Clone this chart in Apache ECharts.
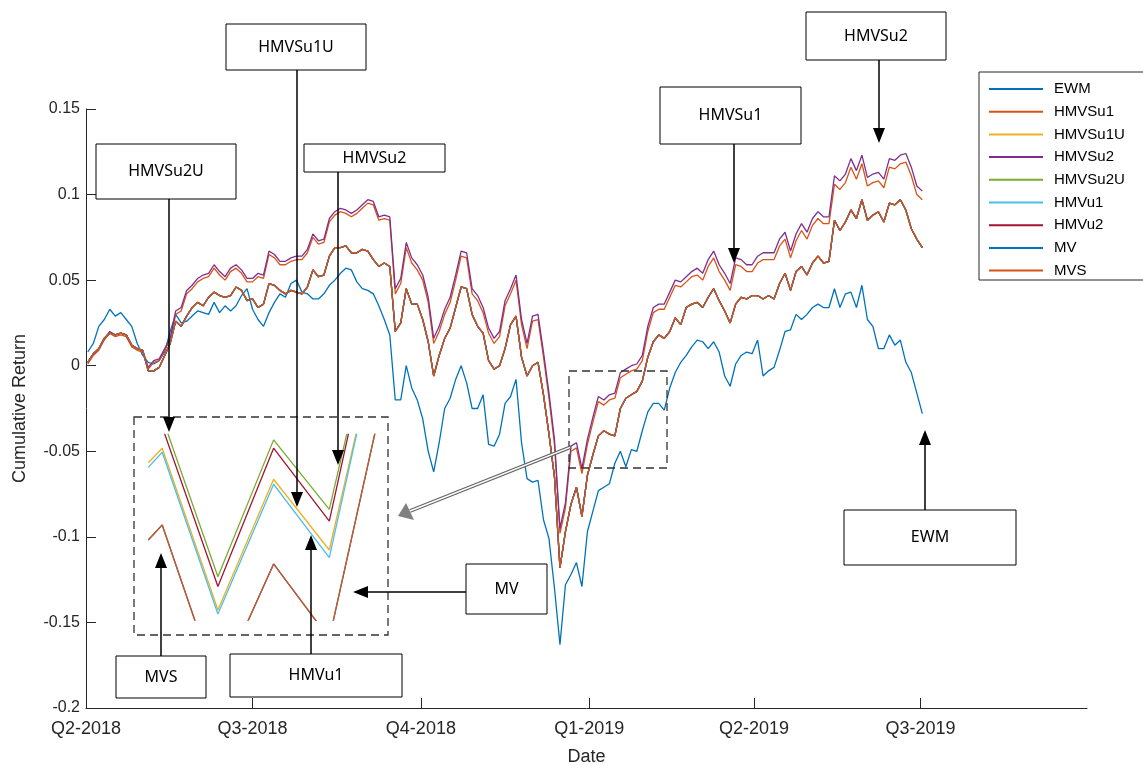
<!DOCTYPE html>
<html>
<head>
<meta charset="utf-8">
<script src="https://cdn.jsdelivr.net/npm/echarts@6/dist/echarts.min.js"></script>
<style>
  html, body { margin: 0; padding: 0; background: #fff; }
  #chart { width: 1143px; height: 771px; }
</style>
</head>
<body>
<div id="chart"></div>
<script>
// quarter ticks, in days since 2018-04-01
var quarterDays = [0, 91, 183, 275, 365, 456];
var quarterLabels = ['Q2-2018', 'Q3-2018', 'Q4-2018', 'Q1-2019', 'Q2-2019', 'Q3-2019'];

// cumulative returns, one sample every 3 days from 2018-04-02
var ewm = [0.008,0.013,0.023,0.027,0.033,0.029,0.031,0.027,0.023,0.013,
  0.006,0.002,0.001,0.003,0.008,0.020,0.030,0.025,0.026,0.029,
  0.032,0.031,0.030,0.037,0.031,0.035,0.032,0.035,0.041,0.045,
  0.033,0.027,0.023,0.031,0.037,0.042,0.040,0.048,0.050,0.043,
  0.042,0.039,0.039,0.042,0.047,0.050,0.054,0.057,0.056,0.049,
  0.045,0.044,0.042,0.035,0.027,0.018,-0.020,-0.020,0.000,-0.013,
  -0.020,-0.031,-0.050,-0.062,-0.045,-0.025,-0.019,-0.008,0.000,-0.010,
  -0.025,-0.025,-0.017,-0.046,-0.047,-0.040,-0.022,-0.018,-0.008,-0.045,
  -0.066,-0.068,-0.067,-0.090,-0.101,-0.130,-0.163,-0.128,-0.122,-0.115,
  -0.129,-0.097,-0.085,-0.073,-0.071,-0.069,-0.057,-0.050,-0.059,-0.049,
  -0.050,-0.038,-0.027,-0.022,-0.022,-0.026,-0.013,-0.004,0.002,0.006,
  0.011,0.015,0.014,0.010,0.014,0.008,-0.006,-0.012,0.001,0.006,
  0.008,0.007,0.015,-0.006,-0.003,-0.001,0.009,0.020,0.021,0.030,
  0.027,0.030,0.034,0.036,0.034,0.034,0.045,0.034,0.042,0.043,
  0.034,0.047,0.027,0.023,0.010,0.010,0.018,0.012,0.015,0.002,
  -0.004,-0.016,-0.028];

var hmvsu1 = [0.001,0.006,0.009,0.015,0.019,0.017,0.018,0.017,0.011,0.009,
  0.008,-0.002,0.002,0.003,0.009,0.015,0.030,0.032,0.042,0.045,
  0.049,0.051,0.052,0.057,0.053,0.050,0.055,0.057,0.054,0.049,
  0.049,0.052,0.051,0.065,0.063,0.059,0.059,0.061,0.062,0.062,
  0.066,0.075,0.071,0.072,0.084,0.088,0.090,0.089,0.087,0.089,
  0.092,0.095,0.094,0.085,0.086,0.085,0.042,0.048,0.069,0.060,
  0.056,0.050,0.037,0.013,0.020,0.030,0.037,0.050,0.064,0.063,
  0.042,0.038,0.031,0.019,0.013,0.017,0.035,0.042,0.050,0.024,
  0.010,0.026,0.027,0.005,-0.019,-0.046,-0.098,-0.083,-0.050,-0.048,
  -0.063,-0.046,-0.033,-0.021,-0.023,-0.020,-0.019,-0.007,-0.005,-0.003,
  -0.002,0.003,0.020,0.031,0.033,0.033,0.040,0.047,0.046,0.049,
  0.052,0.053,0.050,0.058,0.063,0.055,0.050,0.044,0.059,0.058,
  0.055,0.055,0.060,0.062,0.062,0.062,0.070,0.074,0.063,0.073,
  0.079,0.074,0.082,0.086,0.083,0.083,0.106,0.103,0.107,0.116,
  0.109,0.118,0.105,0.107,0.108,0.104,0.116,0.115,0.118,0.119,
  0.111,0.100,0.097];

var hmvsu2 = [0.002,0.007,0.010,0.016,0.020,0.018,0.019,0.018,0.012,0.010,
  0.009,-0.001,0.003,0.004,0.010,0.016,0.032,0.034,0.044,0.047,
  0.051,0.053,0.054,0.059,0.055,0.052,0.057,0.059,0.056,0.051,
  0.051,0.054,0.053,0.067,0.065,0.061,0.061,0.063,0.064,0.064,
  0.068,0.077,0.073,0.074,0.086,0.090,0.092,0.091,0.089,0.091,
  0.094,0.097,0.096,0.087,0.088,0.087,0.045,0.051,0.072,0.063,
  0.059,0.053,0.040,0.016,0.023,0.033,0.040,0.053,0.067,0.066,
  0.045,0.041,0.034,0.022,0.016,0.020,0.038,0.045,0.053,0.027,
  0.013,0.029,0.030,0.008,-0.016,-0.043,-0.095,-0.080,-0.047,-0.045,
  -0.060,-0.043,-0.030,-0.018,-0.020,-0.017,-0.016,-0.004,-0.002,0.000,
  0.001,0.006,0.023,0.034,0.036,0.036,0.043,0.050,0.049,0.052,
  0.055,0.057,0.054,0.062,0.067,0.059,0.054,0.048,0.063,0.062,
  0.059,0.059,0.064,0.066,0.066,0.066,0.074,0.078,0.067,0.077,
  0.083,0.078,0.086,0.090,0.087,0.087,0.111,0.108,0.112,0.121,
  0.114,0.123,0.110,0.112,0.113,0.109,0.121,0.120,0.123,0.124,
  0.116,0.105,0.102];

// the six remaining portfolios overlap almost exactly in the main plot
var mvGroup = [0.002,0.007,0.010,0.016,0.019,0.018,0.019,0.018,0.012,0.010,
  0.009,-0.003,-0.003,-0.001,0.006,0.013,0.026,0.023,0.029,0.034,
  0.037,0.035,0.040,0.043,0.041,0.040,0.041,0.046,0.044,0.038,
  0.039,0.034,0.036,0.048,0.047,0.044,0.042,0.044,0.043,0.042,
  0.046,0.056,0.052,0.053,0.064,0.069,0.069,0.070,0.066,0.066,
  0.068,0.067,0.062,0.058,0.060,0.058,0.020,0.025,0.045,0.036,
  0.036,0.027,0.014,-0.006,0.006,0.016,0.022,0.034,0.046,0.045,
  0.030,0.023,0.019,0.003,-0.002,0.000,0.010,0.024,0.029,0.005,
  -0.006,0.000,0.002,-0.017,-0.040,-0.065,-0.118,-0.097,-0.081,-0.071,
  -0.088,-0.064,-0.052,-0.041,-0.038,-0.040,-0.041,-0.025,-0.019,-0.017,
  -0.015,-0.009,0.005,0.014,0.018,0.016,0.020,0.028,0.024,0.034,
  0.036,0.037,0.034,0.040,0.045,0.038,0.032,0.025,0.036,0.040,
  0.039,0.041,0.041,0.039,0.041,0.039,0.048,0.054,0.044,0.055,
  0.058,0.053,0.060,0.064,0.060,0.061,0.085,0.079,0.084,0.091,
  0.086,0.097,0.085,0.088,0.090,0.084,0.095,0.094,0.097,0.091,
  0.080,0.074,0.069];

// zoomed inset (arbitrary units, 0..100 is the visible window)
var insetX = [0.75, 1, 2, 3, 4, 5];
var insetHMVSu1U = [84.7, 92.5, 5.4, 75.8, 37.7, 168];
var insetHMVSu2U = [115, 109, 23.3, 97, 59.6, 189];
var insetHMVu1 = [82.2, 90.3, 3.2, 73.1, 33.6, 169];
var insetHMVu2 = [110, 104, 18.0, 92.5, 53.3, 190];
var insetMV = [43.1, 51.2, -36.5, 30.2, -10, 125];
var insetMVS = [43.1, 51.2, -36.5, 30.2, -10, 125];

var names = ['EWM', 'HMVSu1', 'HMVSu1U', 'HMVSu2', 'HMVSu2U', 'HMVu1', 'HMVu2', 'MV', 'MVS'];
var colors = ['#0072BD', '#D95319', '#EDB120', '#7E2F8E', '#77AC30', '#4DBEEE', '#A2142F', '#0072BD', '#D95319'];
var mainData = [ewm, hmvsu1, mvGroup, hmvsu2, mvGroup, mvGroup, mvGroup, mvGroup, mvGroup];
var insetData = [null, null, insetHMVSu1U, null, insetHMVSu2U, insetHMVu1, insetHMVu2, insetMV, insetMVS];

var sampleDays = ewm.map(function (v, i) { return 1 + 3 * i; });
function pairs(xs, ys) { return ys.map(function (y, i) { return [xs[i], y]; }); }

var chart = echarts.init(document.getElementById('chart'));

var series = [];
names.forEach(function (n, k) {
    series.push({
        name: n, type: 'line', data: pairs(sampleDays, mainData[k]),
        showSymbol: false, symbol: 'none', color: colors[k],
        lineStyle: { width: 1.3, color: colors[k] }, animation: false
    });
});
names.forEach(function (n, k) {
    if (!insetData[k]) return;
    series.push({
        name: n + ' (zoom)', type: 'line', xAxisIndex: 1, yAxisIndex: 1,
        data: pairs(insetX, insetData[k]), clip: true,
        showSymbol: false, symbol: 'none', color: colors[k],
        lineStyle: { width: 1.3, color: colors[k] }, animation: false
    });
});

// annotation helpers
function box(x, y, w, h, label) {
    return [
        { type: 'rect', z: 50, shape: { x: x, y: y, width: w, height: h },
          style: { fill: '#fff', stroke: '#000', lineWidth: 1 } },
        { type: 'text', z: 51, style: { x: x + w / 2, y: y + h / 2, text: label, align: 'center',
          verticalAlign: 'middle', font: '16px "Noto Sans"', fill: '#000' } }
    ];
}
function arrow(x1, y1, x2, y2, color, len, half, width) {
    var a = Math.atan2(y2 - y1, x2 - x1);
    var bx = x2 - len * Math.cos(a), by = y2 - len * Math.sin(a);
    var px = -Math.sin(a) * half, py = Math.cos(a) * half;
    return [
        { type: 'line', z: 50, shape: { x1: x1, y1: y1, x2: bx, y2: by },
          style: { stroke: color, lineWidth: width } },
        { type: 'polygon', z: 50, shape: { points: [[x2, y2], [bx + px, by + py], [bx - px, by - py]] },
          style: { fill: color } }
    ];
}
function dashedRect(x, y, w, h) {
    return { type: 'rect', z: 40, shape: { x: x, y: y, width: w, height: h },
        style: { fill: 'none', stroke: '#333', lineWidth: 1.3, lineDash: [8, 5] } };
}

var g = [];
g.push(dashedRect(569, 371, 98, 97));
g.push(dashedRect(134, 417, 254, 218));
// double-line pointer from the small box to the inset
g.push({ type: 'line', z: 45, shape: { x1: 571, y1: 447, x2: 410, y2: 511 }, style: { stroke: '#666', lineWidth: 3.6 } });
g.push({ type: 'line', z: 46, shape: { x1: 570, y1: 447.4, x2: 410, y2: 511 }, style: { stroke: '#fff', lineWidth: 1.4 } });
g.push({ type: 'polygon', z: 46, shape: { points: [[398, 516], [406, 503], [414, 520]] }, style: { fill: '#808080' } });

g = g.concat(box(226, 24, 140, 46, 'HMVSu1U'), arrow(297, 70, 297, 507, '#000', 15, 6, 1.5));
g = g.concat(box(96, 144, 140, 55, 'HMVSu2U'), arrow(169, 199, 169, 432, '#000', 15, 6, 1.5));
g = g.concat(box(304, 144, 141, 28, 'HMVSu2'), arrow(338, 172, 338, 465, '#000', 15, 6, 1.5));
g = g.concat(box(660, 87, 141, 57, 'HMVSu1'), arrow(734, 144, 734, 263, '#000', 15, 6, 1.5));
g = g.concat(box(806, 12, 140, 48, 'HMVSu2'), arrow(879, 60, 879, 143, '#000', 15, 6, 1.5));
g = g.concat(box(844, 510, 172, 55, 'EWM'), arrow(925, 510, 925, 430, '#000', 15, 6, 1.5));
g = g.concat(box(466, 564, 81, 50, 'MV'), arrow(466, 592, 353, 592, '#000', 15, 6, 1.5));
g = g.concat(box(116, 656, 90, 42, 'MVS'), arrow(161, 656, 161, 553, '#000', 15, 6, 1.5));
g = g.concat(box(230, 654, 172, 43, 'HMVu1'), arrow(311, 654, 311, 535, '#000', 15, 6, 1.5));
// legend frame
g.push({ type: 'rect', z: 3, shape: { x: 979, y: 72, width: 200, height: 208 },
    style: { fill: '#fff', stroke: '#262626', lineWidth: 1 } });

var axisText = { color: '#262626', fontFamily: 'Liberation Sans, Arial, sans-serif' };

chart.setOption({
    animation: false,
    backgroundColor: '#fff',
    grid: [
        { left: 86, right: 56, top: 109, bottom: 60 },
        { left: 148.3, top: 434.3, width: 236.7, height: 185.7 }
    ],
    legend: {
        data: names, orient: 'vertical', left: 984, top: 76,
        icon: 'rect', itemWidth: 54, itemHeight: 2, itemGap: 6.7,
        textStyle: { fontSize: 15, lineHeight: 16, color: '#000', fontFamily: 'Liberation Sans, Arial, sans-serif', padding: [0, 0, 0, 6] }
    },
    xAxis: [{
        type: 'value', min: 0, max: 547, interval: 91.25,
        name: 'Date', nameLocation: 'middle', nameGap: 40,
        nameTextStyle: Object.assign({ fontSize: 18 }, axisText),
        axisLine: { onZero: false, lineStyle: { color: '#262626', width: 1 } },
        axisTick: { inside: true, length: 10, customValues: quarterDays, lineStyle: { color: '#262626' } },
        axisLabel: Object.assign({
            fontSize: 18, margin: 12, customValues: quarterDays,
            formatter: function (v) {
                var k = quarterDays.indexOf(Math.round(v));
                if (k < 0) k = Math.round(v / 91.25);
                return quarterLabels[k] || '';
            }
        }, axisText),
        splitLine: { show: false }
    }, {
        gridIndex: 1, type: 'value', min: 0.75, max: 5, show: false
    }],
    yAxis: [{
        type: 'value', min: -0.2, max: 0.15, interval: 0.05,
        name: 'Cumulative Return', nameLocation: 'middle', nameGap: 57,
        nameTextStyle: Object.assign({ fontSize: 18 }, axisText),
        axisLine: { show: true, onZero: false, lineStyle: { color: '#262626', width: 1 } },
        axisTick: { show: true, inside: true, length: 10, lineStyle: { color: '#262626' } },
        axisLabel: Object.assign({ fontSize: 16, margin: 6 }, axisText),
        splitLine: { show: false }
    }, {
        gridIndex: 1, type: 'value', min: 0, max: 100, show: false
    }],
    series: series,
    graphic: g
});
</script>
</body>
</html>
